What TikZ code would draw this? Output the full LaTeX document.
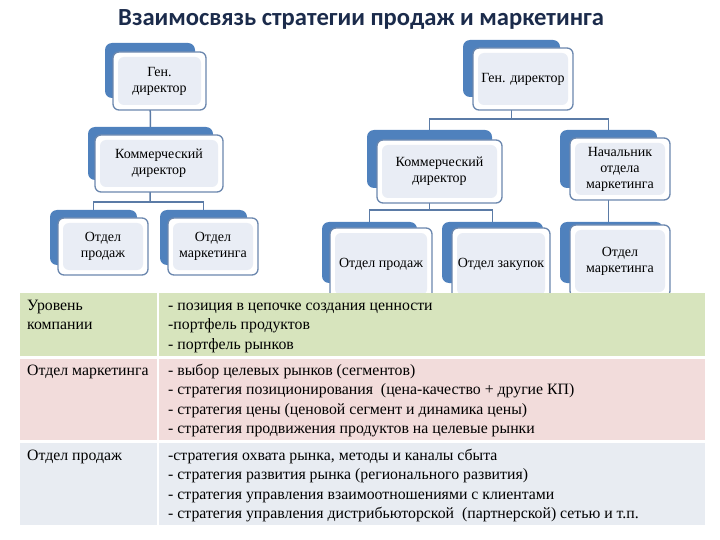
\documentclass[tikz,border=0pt]{standalone}
\usepackage{fontspec}
\setmainfont{Liberation Serif}
\newfontfamily\titlefont{Carlito}
\newfontfamily\boxfont{Liberation Serif}
\usetikzlibrary{backgrounds,calc}
\definecolor{backblue}{HTML}{4F81BD}
\definecolor{frontline}{HTML}{6B87AE}
\definecolor{innerfill}{HTML}{E9EDF5}
\definecolor{conncol}{HTML}{5B7BA6}
\definecolor{rowgreen}{HTML}{D7E4BD}
\definecolor{rowred}{HTML}{F2DCDB}
\definecolor{rowblue}{HTML}{E8ECF2}
\definecolor{titlecol}{HTML}{1B2B4B}
\tikzset{
  backbox/.style={draw=none, fill=backblue, rounded corners=7pt, inner sep=0pt},
  frontbox/.style={draw=frontline, line width=1.3pt, fill=white, rounded corners=6pt,
    inner sep=0pt, align=center, font=\boxfont\fontsize{14}{16}\selectfont,
    path picture={\fill[innerfill] ([shift={(5pt,5pt)}]path picture bounding box.south west)
      rectangle ([shift={(-5pt,-5pt)}]path picture bounding box.north east);}},
  conn/.style={draw=conncol, line width=1.5pt},
  celltext/.style={anchor=base west, inner sep=0pt, align=left, font=\boxfont\fontsize{15.8}{19.5}\selectfont}
}
\begin{document}
\begin{tikzpicture}[x=1pt,y=-1pt]
\useasboundingbox (0,0) rectangle (720,540);
% title
\node[font=\titlefont\bfseries\fontsize{24.6}{28}\selectfont, text=titlecol] (title) at (361,20) {Взаимосвязь стратегии продаж и маркетинга};
% left tree
\node[backbox, minimum width=90pt, minimum height=55pt] (g1b) at (150,70.5) {};
\node[frontbox, minimum width=93pt, minimum height=58pt] (g1) at (159.5,81) {Ген.\\директор};
\node[backbox, minimum width=125pt, minimum height=53pt] (c1b) at (150.5,153.5) {};
\node[frontbox, minimum width=128pt, minimum height=57pt] (c1) at (159,163.5) {Коммерческий\\директор};
\node[backbox, minimum width=87pt, minimum height=55pt] (p1b) at (93.5,237.5) {};
\node[frontbox, minimum width=90pt, minimum height=57pt] (p1) at (103,246.5) {Отдел\\продаж};
\node[backbox, minimum width=87pt, minimum height=55pt] (m1b) at (203.5,237.5) {};
\node[frontbox, minimum width=90pt, minimum height=57pt] (m1) at (213,246.5) {Отдел\\маркетинга};
% right tree
\node[backbox, minimum width=97pt, minimum height=57pt] (g2b) at (511.5,68.5) {};
\node[frontbox, minimum width=100pt, minimum height=62pt] (g2) at (523,79) {Ген. директор};
\node[backbox, minimum width=125pt, minimum height=58pt] (c2b) at (429.5,159) {};
\node[frontbox, minimum width=125pt, minimum height=63pt] (c2) at (439.5,171.5) {Коммерческий\\директор};
\node[backbox, minimum width=97pt, minimum height=58pt] (n2b) at (608.5,159) {};
\node[frontbox, minimum width=100pt, minimum height=62pt] (n2) at (620,169) {Начальник\\отдела\\маркетинга};
\node[backbox, minimum width=95pt, minimum height=61pt] (p2b) at (369.5,252.5) {};
\node[frontbox, minimum width=102pt, minimum height=72pt] (p2) at (381,264) {Отдел продаж};
\node[backbox, minimum width=101pt, minimum height=61pt] (z2b) at (492.5,252.5) {};
\node[frontbox, minimum width=98pt, minimum height=72pt] (z2) at (501,264) {Отдел закупок};
\node[backbox, minimum width=103pt, minimum height=61pt] (mk2b) at (611.5,252.5) {};
\node[frontbox, minimum width=100pt, minimum height=72pt] (mk2) at (620,261) {Отдел\\маркетинга};
% connectors
\coordinate (j1) at (150,202);
\coordinate (j2) at (511.5,119);
\coordinate (j3) at (429.5,210);
\begin{pgfonlayer}{background}
\draw[conn] (g1b.center) -- (c1b.center);
\draw[conn] (c1b.center) -- (j1);
\draw[conn] (p1b.center) |- (j1) -| (m1b.center);
\draw[conn] (g2b.center) -- (j2);
\draw[conn] (c2b.center) |- (j2) -| (n2b.center);
\draw[conn] (c2b.center) -- (j3);
\draw[conn] (p2b.center) |- (j3) -| (z2b.center);
\draw[conn] (n2b.center) -- (n2b.center |- mk2b.center);
\end{pgfonlayer}
% table
\fill[rowgreen] (20,293) rectangle (157,356);
\fill[rowgreen] (159,293) rectangle (705,356);
\fill[rowred] (20,359) rectangle (157,440);
\fill[rowred] (159,359) rectangle (705,440);
\fill[rowblue] (20,443) rectangle (157,525);
\fill[rowblue] (159,443) rectangle (705,525);
% base anchor = baseline of the last line
\node[celltext] (l1) at (27,329.5) {Уровень\\компании};
\node[celltext] (r1) at (168,349) {- позиция в цепочке создания ценности\\-портфель продуктов\\- портфель рынков};
\node[celltext] (l2) at (27,375) {Отдел маркетинга};
\node[celltext] (r2) at (168,433.5) {- выбор целевых рынков (сегментов)\\- стратегия позиционирования \ (цена-качество + другие КП)\\- стратегия цены (ценовой сегмент и динамика цены)\\- стратегия продвижения продуктов на целевые рынки};
\node[celltext] (l3) at (27,460) {Отдел продаж};
\node[celltext] (r3) at (168,518.5) {-стратегия охвата рынка, методы и каналы сбыта\\- стратегия развития рынка (регионального развития)\\- стратегия управления взаимоотношениями с клиентами\\- стратегия управления дистрибьюторской \ (партнерской) сетью и т.п.};
\end{tikzpicture}
\end{document}
